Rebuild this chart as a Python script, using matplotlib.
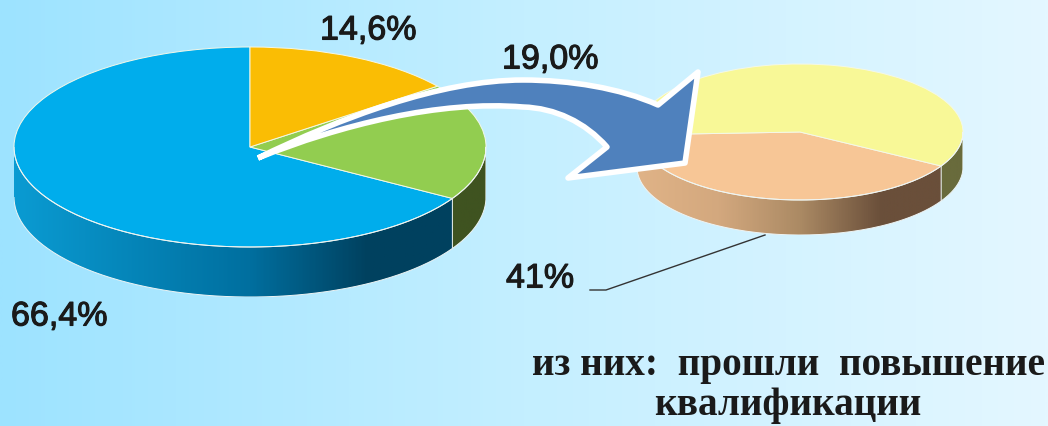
import matplotlib
matplotlib.use('Agg')
import matplotlib.pyplot as plt
import matplotlib.patheffects as pe
from matplotlib.colors import LinearSegmentedColormap
from matplotlib.patches import PathPatch
from matplotlib.path import Path
import numpy as np

W, H = 1048, 426

left_values = [66.4, 19.0, 14.6]
left_colors = ['#00adec', '#92cd50', '#fabd04']
left_walls = [[(0, '#0a9bd2'), (0.5, '#006f9f'), (0.75, '#00415f'), (1, '#00415f')],
              [(0, '#3f5320'), (1, '#3f5320')], None]
right_values = [41, 59]
right_colors = ['#f7c696', '#f8f897']
right_walls = [[(0, '#e0b387'), (0.25, '#d3a87e'), (0.5, '#ab8a64'), (0.75, '#6a4f3a'), (1, '#6a4f3a')],
               [(0, '#696b3c'), (1, '#696b3c')]]
labels = ['66,4%', '19,0%', '14,6%', '41%']


def pie3d(cx, cy, rx, ry, depth, values, colors, walls, start):
    # axes cover the ellipse + the wall, pixels -> unit circle
    ax = fig.add_axes([(cx - rx) / W, 1 - (cy + ry + depth) / H, 2 * rx / W, (2 * ry + depth) / H])
    ax.pie(values, colors=colors, startangle=start, counterclock=True, radius=1,
           wedgeprops={'edgecolor': '#f4f8e8', 'linewidth': 0.7})
    d = depth / ry
    ax.set_aspect('auto')
    ax.set_xlim(-1, 1)
    ax.set_ylim(-1 - d, 1)
    ax.axis('off')
    edges = start + np.cumsum([0] + list(values)) * 3.6
    for i, wall in enumerate(walls):
        if wall is None:
            continue
        lo = 180 if i == 0 else edges[i]
        hi = min(edges[i + 1], 360)
        t = np.radians(np.linspace(lo, hi, 120))
        xs = np.r_[np.cos(t), np.cos(t[::-1])]
        ys = np.r_[np.sin(t), np.sin(t[::-1]) - d]
        patch = PathPatch(Path(np.c_[xs, ys]), facecolor='none', edgecolor='#eef4f4', lw=0.7, zorder=1)
        ax.add_patch(patch)
        cmap = LinearSegmentedColormap.from_list('wall', wall)
        im = ax.imshow(np.linspace(0, 1, 400)[None, :], cmap=cmap, aspect='auto',
                       extent=(-1, 1, -1 - d, 1), zorder=0.5)
        im.set_clip_path(patch)
    ax.set_xlim(-1, 1)
    ax.set_ylim(-1 - d, 1)
    return ax


fig = plt.figure(figsize=(W / 100, H / 100), dpi=100)

# background
bg = fig.add_axes([0, 0, 1, 1])
grad = LinearSegmentedColormap.from_list('bg', ['#9de3ff', '#c4efff', '#e4f7ff'])
bg.imshow(np.linspace(0, 1, 512)[None, :], cmap=grad, aspect='auto', extent=(0, W, H, 0))
bg.set_xlim(0, W)
bg.set_ylim(H, 0)
bg.axis('off')

pie3d(250, 147, 236, 100, 50, left_values, left_colors, left_walls, 90)
pie3d(800, 132, 163, 68, 35, right_values, right_colors, right_walls, 182.4)

# overlay, pixel coords
top = fig.add_axes([0, 0, 1, 1])
top.set_xlim(0, W)
top.set_ylim(H, 0)
top.axis('off')

verts = [(258, 158),
         (340, 118), (440, 80), (523, 80),
         (570, 80), (620, 88), (658, 105),
         (698, 72), (685, 163), (568, 178), (607, 147),
         (585, 122), (555, 108), (523, 107),
         (440, 100), (340, 125), (258, 158)]
codes = [Path.MOVETO,
         Path.CURVE4, Path.CURVE4, Path.CURVE4,
         Path.CURVE4, Path.CURVE4, Path.CURVE4,
         Path.LINETO, Path.LINETO, Path.LINETO, Path.LINETO,
         Path.CURVE4, Path.CURVE4, Path.CURVE4,
         Path.CURVE4, Path.CURVE4, Path.CURVE4]
top.add_patch(PathPatch(Path(verts, codes), facecolor='#4f81bd', edgecolor='white',
                        lw=4, joinstyle='round'))

top.plot([590, 606, 765], [290, 290, 235], color='#333333', lw=1)

sans = dict(family='Liberation Sans', fontsize=24.5, color='#1a1a1a', va='center', ha='left',
            path_effects=[pe.withStroke(linewidth=0.8, foreground='#1a1a1a')])
top.text(11, 317, labels[0], **sans)
top.text(502, 60, labels[1], **sans)
top.text(320, 31, labels[2], **sans)
top.text(506, 279, labels[3], **sans)

serif = dict(family='Liberation Serif', fontweight='bold', fontsize=28.3, color='#1a1a1a', va='center')
top.text(532, 366, 'из них:  прошли  повышение', ha='left', **serif)
top.text(788, 406, 'квалификации', ha='center', **serif)

fig.savefig('out.png', dpi=100)
